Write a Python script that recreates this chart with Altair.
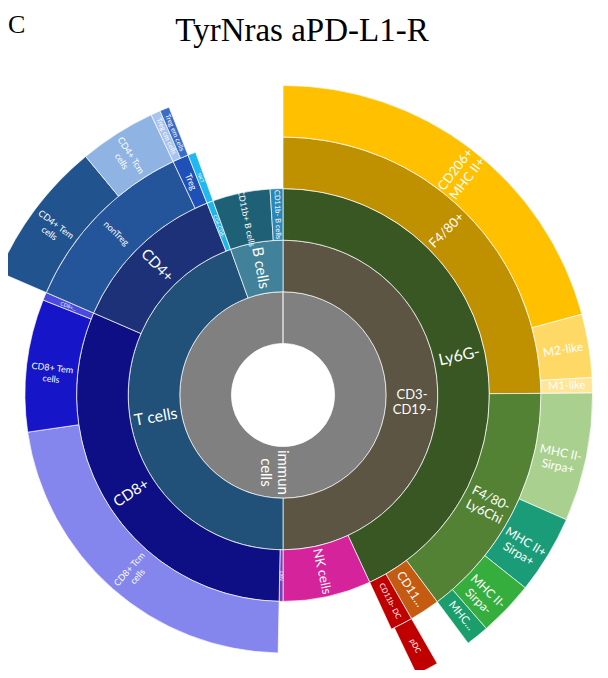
import altair as alt
import pandas as pd

# ---------------- data (shares in % of all immune cells) ----------------
L1_NAMES = ["immun cells"]
L1_VALUES = [100.0]
L1_PARENTS = [None]

L2_NAMES = ["CD3-CD19-", "T cells", "B cells"]
L2_VALUES = [50.0, 44.5, 5.5]
L2_PARENTS = ["immun cells", "immun cells", "immun cells"]

L3_NAMES = ["Ly6G-", "NK cells", "NKT", "CD8+", "CD4+", "CD4-CD8-",
            "CD11b+ B cells", "CD11b- B cells"]
L3_VALUES = [43.1, 6.9, 0.3, 31.2, 12.5, 0.5, 4.5, 1.0]
L3_PARENTS = ["CD3-CD19-", "CD3-CD19-", "T cells", "T cells", "T cells",
              "T cells", "B cells", "B cells"]

L4_NAMES = ["F4/80+", "F4/80-Ly6Chi", "CD11b+ DC", "CD11b- DC",
            "CD8+ Tcm cells", "CD8+ Tem cells", "CD8+ other",
            "nonTreg", "Treg", "DN NKT"]
L4_VALUES = [24.9, 14.9, 1.9, 1.4, 22.4, 8.3, 0.5, 11.5, 1.0, 0.5]
L4_PARENTS = ["Ly6G-", "Ly6G-", "Ly6G-", "Ly6G-", "CD8+", "CD8+", "CD8+",
              "CD4+", "CD4+", "CD4-CD8-"]

L5_NAMES = ["CD206+ MHC II+", "M2-like", "M1-like",
            "MHC II- Sirpa+", "MHC II+ Sirpa+", "MHC II- Sirpa-", "MHC II+ Sirpa-",
            "pDC", "CD4+ Tem cells", "CD4+ Tcm cells",
            "Treg cm cells", "Treg em cells"]
L5_VALUES = [20.8, 3.3, 0.8, 6.7, 4.1, 2.9, 1.2, 1.2, 7.5, 4.0, 0.5, 0.5]
L5_PARENTS = ["F4/80+", "F4/80+", "F4/80+",
              "F4/80-Ly6Chi", "F4/80-Ly6Chi", "F4/80-Ly6Chi", "F4/80-Ly6Chi",
              "CD11b- DC", "nonTreg", "nonTreg", "Treg", "Treg"]

# displayed (possibly truncated) labels
LABELS = {
    "immun cells": "immun\ncells", "CD3-CD19-": "CD3-\nCD19-", "T cells": "T cells",
    "B cells": "B cells", "Ly6G-": "Ly6G-", "NK cells": "NK cells", "NKT": "NKT",
    "CD8+": "CD8+", "CD4+": "CD4+", "CD4-CD8-": "CD4-CD8-",
    "CD11b+ B cells": "CD11b+ B cells", "CD11b- B cells": "CD11b- B cells",
    "F4/80+": "F4/80+", "F4/80-Ly6Chi": "F4/80-\nLy6Chi", "CD11b+ DC": "CD11...",
    "CD11b- DC": "CD11b- DC", "CD8+ Tcm cells": "CD8+ Tcm\ncells",
    "CD8+ Tem cells": "CD8+ Tem\ncells", "CD8+ other": "CD8+...",
    "nonTreg": "nonTreg", "Treg": "Treg", "DN NKT": "NKT",
    "CD206+ MHC II+": "CD206+\nMHC II+", "M2-like": "M2-like", "M1-like": "M1-like",
    "MHC II- Sirpa+": "MHC II-\nSirpa+", "MHC II+ Sirpa+": "MHC II+\nSirpa+",
    "MHC II- Sirpa-": "MHC II-\nSirpa-", "MHC II+ Sirpa-": "MHC...",
    "pDC": "pDC", "CD4+ Tem cells": "CD4+ Tem\ncells", "CD4+ Tcm cells": "CD4+ Tcm\ncells",
    "Treg cm cells": "Treg cm cells", "Treg em cells": "Treg em cells",
}

# ---------------- styles ----------------
COLORS = {
    "immun cells": "#808080", "CD3-CD19-": "#5c5543", "T cells": "#215079",
    "B cells": "#41819a", "Ly6G-": "#385723", "NK cells": "#d4239b",
    "NKT": "#7b3fb8", "CD8+": "#0f0f85", "CD4+": "#1d3179", "CD4-CD8-": "#1fb4ea",
    "CD11b+ B cells": "#1e6177", "CD11b- B cells": "#2a88b8",
    "F4/80+": "#bf9000", "F4/80-Ly6Chi": "#548235", "CD11b+ DC": "#c55a11",
    "CD11b- DC": "#c00000", "CD8+ Tcm cells": "#8585ee", "CD8+ Tem cells": "#1616c8",
    "CD8+ other": "#4a4ae0", "nonTreg": "#24559a", "Treg": "#1f50b8",
    "DN NKT": "#20b8f0", "CD206+ MHC II+": "#ffc000", "M2-like": "#ffd966",
    "M1-like": "#ffe699", "MHC II- Sirpa+": "#a9d08e", "MHC II+ Sirpa+": "#1b9c78",
    "MHC II- Sirpa-": "#36ae3e", "MHC II+ Sirpa-": "#1b9e6c", "pDC": "#c00000",
    "CD4+ Tem cells": "#21538f", "CD4+ Tcm cells": "#8fb4e3",
    "Treg cm cells": "#a8c4ee", "Treg em cells": "#3a6cc8",
}
FONT_SIZES = {
    "immun cells": 15, "CD3-CD19-": 13, "T cells": 16, "B cells": 15, "Ly6G-": 16,
    "NK cells": 13, "NKT": 5, "CD8+": 15, "CD4+": 15, "CD4-CD8-": 5,
    "CD11b+ B cells": 8.5, "CD11b- B cells": 7.5, "F4/80+": 13, "F4/80-Ly6Chi": 13,
    "CD11b+ DC": 12, "CD11b- DC": 7.5, "CD8+ Tcm cells": 9, "CD8+ Tem cells": 9,
    "CD8+ other": 5, "nonTreg": 9, "Treg": 9, "DN NKT": 5, "CD206+ MHC II+": 13,
    "M2-like": 12, "M1-like": 11, "MHC II- Sirpa+": 12, "MHC II+ Sirpa+": 12,
    "MHC II- Sirpa-": 12, "MHC II+ Sirpa-": 11, "pDC": 7.5, "CD4+ Tem cells": 9,
    "CD4+ Tcm cells": 9, "Treg cm cells": 7, "Treg em cells": 7,
}

# ---------------- sunburst layout from the values ----------------
levels = [
    (L1_NAMES, L1_VALUES, L1_PARENTS),
    (L2_NAMES, L2_VALUES, L2_PARENTS),
    (L3_NAMES, L3_VALUES, L3_PARENTS),
    (L4_NAMES, L4_VALUES, L4_PARENTS),
    (L5_NAMES, L5_VALUES, L5_PARENTS),
]
rows = []
cursor = {}
for depth, (names, values, parents) in enumerate(levels, start=1):
    for n, v, p in zip(names, values, parents):
        s = 0.0 if p is None else cursor[p]
        if p is not None:
            cursor[p] = s + v
        cursor[n] = s
        mid = s + v / 2
        deg = mid * 3.6
        ang = (deg - 90) % 360 if deg <= 180 else (deg - 270) % 360
        rows.append(dict(name=n, start=s, end=s + v, r0=depth, r1=depth + 1,
                         mid=mid, rmid=depth + 0.5, label=LABELS[n],
                         ang=ang, fs=FONT_SIZES[n]))
df = pd.DataFrame(rows)

CX, CY = 275, 387
theta_scale = alt.Scale(type="linear", domain=[0, 100], range=[0, 6.283185307])
radius_scale = alt.Scale(type="linear", domain=[0, 6], range=[0, 309.6], zero=True)

base = alt.Chart(df)

arcs = base.mark_arc(stroke="white", strokeWidth=0.8, strokeOpacity=0.85).encode(
    x=alt.value(CX), y=alt.value(CY),
    theta=alt.Theta("start:Q", scale=theta_scale, stack=False),
    theta2="end:Q",
    radius=alt.Radius("r0:Q", scale=radius_scale),
    radius2="r1:Q",
    color=alt.Color("name:N", scale=alt.Scale(domain=list(COLORS.keys()),
                                              range=list(COLORS.values())), legend=None),
)

labels = base.mark_text(color="white", font="Lato", align="center",
                        baseline="middle", lineBreak="\n").encode(
    x=alt.value(CX), y=alt.value(CY),
    theta=alt.Theta("mid:Q", scale=theta_scale, stack=False),
    radius=alt.Radius("rmid:Q", scale=radius_scale),
    text="label:N",
    angle=alt.Angle("ang:Q", scale=None),
    size=alt.Size("fs:Q", scale=None),
)

title_df = pd.DataFrame({"t": ["TyrNras aPD-L1-R"]})
title = alt.Chart(title_df).mark_text(font="Liberation Serif", fontSize=33,
                                      align="center", baseline="alphabetic",
                                      color="black").encode(
    x=alt.value(294), y=alt.value(33), text="t:N")

panel_df = pd.DataFrame({"t": ["C"]})
panel = alt.Chart(panel_df).mark_text(font="Liberation Serif", fontSize=26,
                                      align="left", baseline="alphabetic",
                                      color="black").encode(
    x=alt.value(0), y=alt.value(25), text="t:N")

chart = alt.layer(arcs, labels, title, panel).properties(
    width=592, height=662, autosize="none", padding=0
).configure_view(strokeWidth=0)

chart.save("out.html", embed_options={"renderer": "svg", "actions": False})
